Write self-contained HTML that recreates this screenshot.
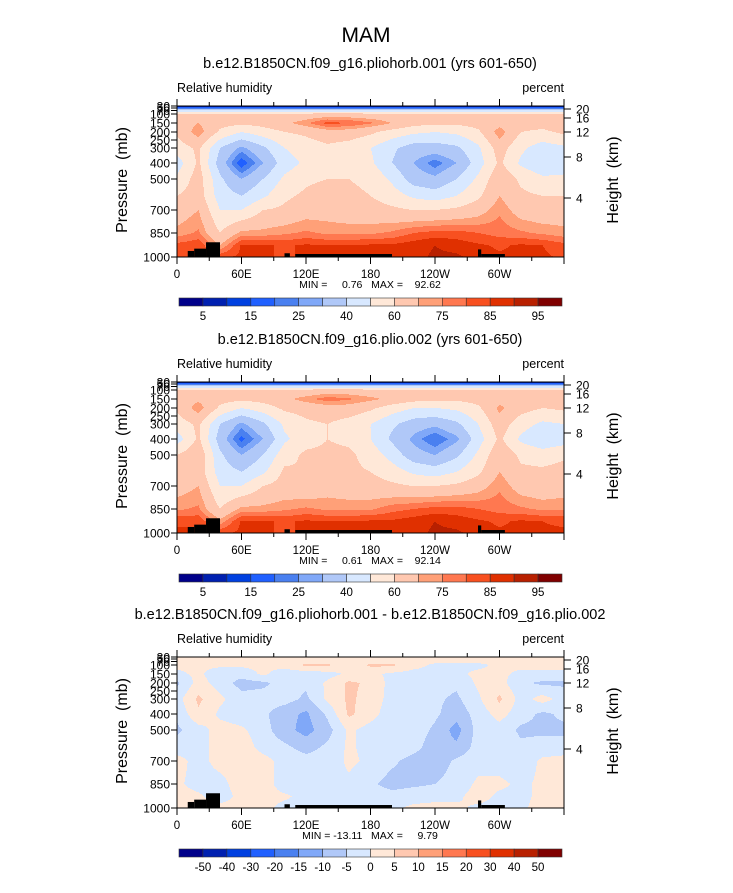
<!DOCTYPE html>
<html><head><meta charset="utf-8"><style>
body{margin:0;background:#fff;width:733px;height:888px;overflow:hidden;font-family:"Liberation Sans",sans-serif}
svg text{font-family:"Liberation Sans",sans-serif;fill:#000;white-space:pre}
</style></head><body>
<svg id="chart" width="733" height="888" xmlns="http://www.w3.org/2000/svg">
<text x="366" y="42" text-anchor="middle" font-size="21" fill="#333">MAM</text>
</svg>
<script>
const lons=[0,20,40,60,80,100,120,140,160,180,200,220,240,260,280,300,320,340,360];
const pLevels=[30,70,100,150,200,300,400,500,600,700,850,925,1000];
const rh1=[
[3,3,3,3,3,3,3,3,3,3,3,3,3,3,3,3,3,3,3],
[40,40,40,40,40,40,40,40,40,40,40,40,40,40,40,40,40,40,40],
[62,62,62,62,62,62,63,64,64,63,62,62,62,62,62,62,62,62,62],
[66,70,64,62,64,68,74,82,80,76,70,64,62,62,64,66,64,64,66],
[62,74,58,50,55,60,62,66,66,62,56,52,50,52,58,74,60,58,62],
[55,62,40,28,38,50,55,58,55,50,42,35,35,38,48,65,52,45,48],
[45,62,35,16,30,45,52,58,58,52,40,30,22,30,45,62,48,42,45],
[52,65,42,30,40,52,58,60,60,58,48,35,32,40,52,68,58,52,52],
[60,65,45,40,48,58,62,65,62,60,55,48,45,50,58,70,62,60,60],
[65,70,50,50,60,62,66,66,64,64,62,60,60,62,66,74,66,64,65],
[72,76,60,72,72,74,76,74,74,74,76,80,82,82,80,78,76,74,72],
[82,84,70,86,86,84,86,85,85,86,86,88,90,88,86,84,86,85,82],
[84,86,84,86,86,84,86,86,86,86,86,88,91,91,88,86,86,86,84]];
const rh2=[
[3,3,3,3,3,3,3,3,3,3,3,3,3,3,3,3,3,3,3],
[40,40,40,40,40,40,40,40,40,40,40,40,40,40,40,40,40,40,40],
[62,62,62,62,62,62,63,64,64,63,62,62,62,62,62,62,62,62,62],
[66,68,64,62,64,68,73,78,76,72,68,64,62,62,64,66,64,64,66],
[62,74,58,50,55,62,64,66,66,62,55,50,50,52,58,72,64,60,62],
[55,62,40,28,38,52,58,60,56,50,42,35,32,38,50,66,54,48,50],
[45,62,35,18,30,48,56,60,58,50,38,28,20,28,45,62,48,42,45],
[60,68,42,30,40,56,62,62,62,56,46,34,30,38,52,68,58,55,58],
[64,66,45,40,48,62,60,66,62,60,55,48,45,50,58,70,62,62,64],
[66,70,50,50,60,64,62,66,64,64,62,60,60,62,66,74,66,64,66],
[74,76,60,72,72,74,76,74,74,74,78,80,82,82,80,78,76,74,74],
[84,84,72,86,86,84,86,85,85,86,86,88,90,88,86,84,86,85,84],
[86,86,84,86,86,84,86,86,86,86,86,88,91,91,88,86,86,86,86]];
const rhDiff=[
[0.5,0.5,0.5,0.5,0.5,0.5,0.5,0.5,0.5,0.5,0.5,0.5,0.5,0.5,0.5,0.5,0.5,0.5,0.5],
[1,1,1,1,1,2,3,3,2,3,3,2,1,1,1,1,1,1,1],
[1,1,1,1,1,2,6,6,1,6,6,2,-1,-1,-1,1,1,1,1],
[-1,1,-3,-3,1,-3,-3,-2,1,1,-1,-2,-2,-1,1,1,-1,-1,-1],
[-6,2,-2,-7,-6,-3,-4,1,6,4,-2,-2,-3,-4,1,2,-4,-6,-6],
[-2,6,1,-3,-3,-3,-6,1,6,3,-2,-3,-4,-6,-1,6,-2,2,-2],
[-4,4,-1,-3,-4,-8,-11,-4,6,2,-3,-2,-4,-8,-3,2,-3,-6,-4],
[-6,-2,2,1,-3,-8,-12,-7,1,-2,-3,-2,-6,-12,-3,-2,-6,-6,-6],
[-3,-2,2,3,-2,-4,-7,-4,1,-2,-1,-3,-8,-9,-3,-2,-4,-3,-3],
[2,-2,2,3,2,-2,-3,-3,1,-1,-4,-7,-8,-4,-2,-2,-3,1,2],
[1,-2,-2,3,3,-3,-3,-1,-1,-4,-7,-6,-5,-3,1,1,-1,1,1],
[2,1,-3,2,2,1,-2,-2,-1,-2,-3,-2,-2,-1,2,-1,-1,1,2],
[2,2,2,2,2,-2,-2,-2,-2,-1,-1,1,2,1,-1,-2,-1,2,2]];
const levelsRH=[5,10,15,20,25,30,40,50,60,70,75,80,85,90,95];
const labelsRH=["5","","15","","25","","40","","60","","75","","85","","95"];
const levelsDiff=[-50,-40,-30,-20,-15,-10,-5,0,5,10,15,20,30,40,50];
const labelsDiff=["-50","-40","-30","-20","-15","-10","-5","0","5","10","15","20","30","40","50"];
const palette=["#00008a","#0020b0","#0040e0","#2060ff","#4a80f0","#80a8f8","#b0c8f8","#d8e8ff","#ffe8d8","#ffc8b0","#ffa078","#ff7850","#f85020","#e03000","#b82000","#800000"];
const pTicks=[1000,850,700,500,400,300,250,200,150,100,70,50,30];
const pTickY=[151,127,104,73,57,42,34,26,17,8,4.5,2,0];
const hTicks=["20","16","12","8","4"];
const hTickY=[3,12,26,51,92];
const xTicks=[0,60,120,180,240,300];
const xLabels=["0","60E","120E","180","120W","60W"];
const topo=[[10,16,960],[16,27,945],[27,40,905],[100,105,975],[110,200,980],[280,283,950],[283,305,980]];
const panels=[
 {top:106,title:"b.e12.B1850CN.f09_g16.pliohorb.001 (yrs 601-650)",data:rh1,lev:levelsRH,lab:labelsRH,mm:"MIN =     0.76   MAX =    92.62",key:"p1"},
 {top:382,title:"b.e12.B1850CN.f09_g16.plio.002 (yrs 601-650)",data:rh2,lev:levelsRH,lab:labelsRH,mm:"MIN =     0.61   MAX =    92.14",key:"p2"},
 {top:657,title:"b.e12.B1850CN.f09_g16.pliohorb.001 - b.e12.B1850CN.f09_g16.plio.002",data:rhDiff,lev:levelsDiff,lab:labelsDiff,mm:"MIN = -13.11   MAX =     9.79",key:"p3"}];
const X0=177,X1=564,H=151;
const svg=document.getElementById('chart');
const NS="http://www.w3.org/2000/svg";
function el(t,a,parent){const e=document.createElementNS(NS,t);for(const k in a)e.setAttribute(k,a[k]);(parent||svg).appendChild(e);return e;}
function xs(lon){return X0+lon/360*(X1-X0);}
function yOfP(p){for(let i=0;i<pTicks.length-1;i++){const a=pTicks[i],b=pTicks[i+1];if(p<=a&&p>=b){const t=(Math.log(a)-Math.log(p))/(Math.log(a)-Math.log(b));return pTickY[i]-t*(pTickY[i]-pTickY[i+1]);}}return p>1000?H:0;}
function colorIdx(v,lev){let i=0;while(i<lev.length&&v>=lev[i])i++;return i;}
panels.forEach(P=>{
 const g=el('g',{});
 
 
 const T=P.top;
 const t=el('text',{x:370,y:T-38,'text-anchor':'middle','font-size':'14.5'},g);t.textContent=P.title;
 
 const l=el('text',{x:177,y:T-14,'font-size':'12.5',fill:'#222'},g);l.textContent="Relative humidity";
 
 const r=el('text',{x:564,y:T-14,'font-size':'12.5','text-anchor':'end'},g);r.textContent="percent";
 
 const rowY=pLevels.map(p=>yOfP(p));
 const field=el('g',{},g);
 
 
 const dy=1,dx=1;
 for(let py=0;py<H;py+=dy){
  const yc=py+dy/2;
  let ri=0;while(ri<rowY.length-2&&rowY[ri+1]<yc)ri++;
  let fy=(yc-rowY[ri])/(rowY[ri+1]-rowY[ri]);fy=Math.max(0,Math.min(1,fy));
  let runStart=0,runC=-1;
  const W=X1-X0;
  for(let px=0;px<=W;px+=dx){
   let c=-1;
   if(px<W){
    const lon=(px+dx/2)/W*360;
    let ci=Math.min(Math.floor(lon/20),lons.length-2);const fx=(lon-lons[ci])/20;
    const d=P.data;
    const v=(d[ri][ci]*(1-fx)+d[ri][ci+1]*fx)*(1-fy)+(d[ri+1][ci]*(1-fx)+d[ri+1][ci+1]*fx)*fy;
    c=colorIdx(v,P.lev);
   }
   if(c!==runC){
    if(runC>=0){el('rect',{x:X0+runStart,y:T+py,width:px-runStart,height:dy,fill:palette[runC]},field);}
    runC=c;runStart=px;
   }
  }
 }
 topo.forEach(b=>{
  const y=T+yOfP(b[2]);
  const rc=el('rect',{x:xs(b[0]),y:y,width:xs(b[1])-xs(b[0]),height:T+H-y,fill:'#000'},g);
  
 });
 const fr=el('rect',{x:X0,y:T,width:X1-X0,height:H,fill:'none',stroke:'#000','stroke-width':1},g);
 
 for(let lon=0;lon<=360;lon+=30){
  const x=xs(lon),major=lon%60===0;const len=major?7:4;
  el('line',{x1:x,x2:x,y1:T,y2:T-len,stroke:'#000'},g);
  el('line',{x1:x,x2:x,y1:T+H,y2:T+H+len,stroke:'#000'},g);
 }
 xTicks.forEach((lon,i)=>{const tx=el('text',{x:xs(lon),y:T+H+21,'text-anchor':'middle','font-size':'11.5'},g);tx.textContent=xLabels[i];
  });
 const mm=el('text',{x:370,y:T+H+31,'text-anchor':'middle','font-size':'10.5'},g);mm.textContent=P.mm;
 
 pTicks.forEach((p,i)=>{const y=T+pTickY[i];el('line',{x1:X0,x2:X0-6,y1:y,y2:y,stroke:'#000'},g);
  const tx=el('text',{x:X0-7,y:y+4.5,'text-anchor':'end','font-size':'12'},g);tx.textContent=p;
  });
 hTicks.forEach((h,i)=>{const y=T+hTickY[i];el('line',{x1:X1,x2:X1+7,y1:y,y2:y,stroke:'#000'},g);
  const tx=el('text',{x:X1+12,y:y+4.5,'font-size':'12'},g);tx.textContent=h;
  });
 const yt=el('text',{x:0,y:0,'text-anchor':'middle','font-size':'16',fill:'#555',transform:`translate(127,${T+74}) rotate(-90)`},g);yt.textContent="Pressure  (mb)";
 
 const ht=el('text',{x:0,y:0,'text-anchor':'middle','font-size':'16',fill:'#555',transform:`translate(618,${T+74}) rotate(-90)`},g);ht.textContent="Height  (km)";
 
 const cb=el('g',{},g);
 
 
 const cy=T+192,cx0=179,cw=(562-179)/16;
 palette.forEach((c,i)=>{el('rect',{x:cx0+i*cw,y:cy,width:cw,height:8,fill:c,stroke:'#333','stroke-width':0.6},cb);});
 P.lab.forEach((s,i)=>{if(!s)return;const tx=el('text',{x:cx0+(i+1)*cw,y:cy+22,'text-anchor':'middle','font-size':'11.5'},cb);tx.textContent=s;
  });
});
</script>
</body></html>
